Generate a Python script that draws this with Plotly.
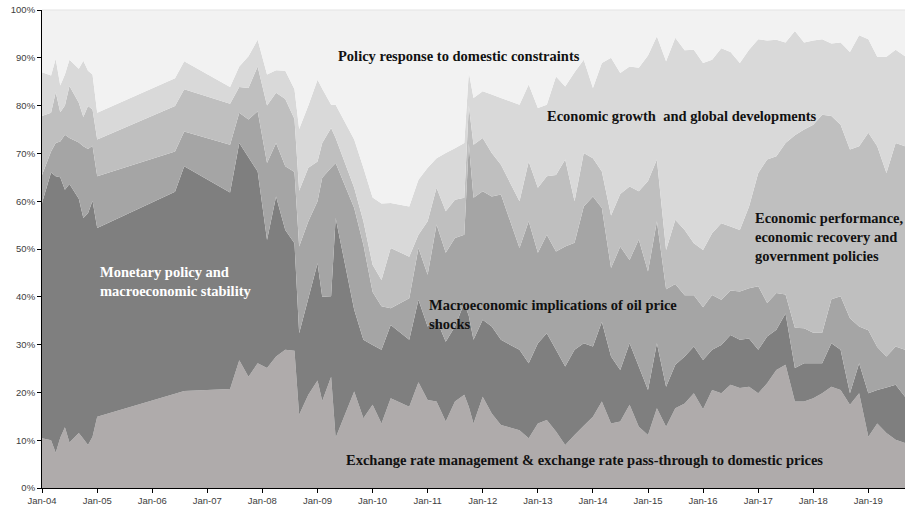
import plotly.graph_objects as go
import numpy as np

# Observation dates
dates = [
    "2004-01-01", "2004-03-01", "2004-04-01", "2004-05-01", "2004-06-01", "2004-07-01",
    "2004-09-01", "2004-10-01", "2004-11-01", "2004-12-01", "2005-01-01", "2006-06-01",
    "2006-08-01", "2007-06-01", "2007-08-01", "2007-10-01", "2007-12-01", "2008-02-01",
    "2008-04-01", "2008-06-01", "2008-08-01", "2008-09-01", "2008-11-01", "2009-01-01",
    "2009-02-01", "2009-04-01", "2009-05-01", "2009-09-01", "2009-11-01", "2010-01-01",
    "2010-03-01", "2010-05-01", "2010-09-01", "2010-11-01", "2011-01-01", "2011-03-01",
    "2011-05-01", "2011-07-01", "2011-09-01", "2011-10-01", "2011-11-01", "2012-01-01",
    "2012-03-01", "2012-05-01", "2012-09-01", "2012-11-01", "2013-01-01", "2013-03-01",
    "2013-05-01", "2013-07-01", "2013-09-01", "2013-11-01", "2014-01-01", "2014-03-01",
    "2014-05-01", "2014-07-01", "2014-09-01", "2014-11-01", "2015-01-01", "2015-03-01",
    "2015-05-01", "2015-07-01", "2015-09-01", "2015-11-01", "2016-01-01", "2016-03-01",
    "2016-05-01", "2016-07-01", "2016-09-01", "2016-11-01", "2017-01-01", "2017-03-01",
    "2017-05-01", "2017-07-01", "2017-09-01", "2017-11-01", "2018-01-01", "2018-03-01",
    "2018-05-01", "2018-07-01", "2018-09-01", "2018-11-01", "2019-01-01", "2019-03-01",
    "2019-05-01", "2019-07-01", "2019-09-01",
]

# Cumulative shares (%): upper edge of each stacked band
top_exchange = [
    10.4, 10.0, 7.4, 10.5, 12.7, 9.5, 11.5, 10.3, 9.0, 10.7, 14.9, 19.7,
    20.3, 20.7, 26.7, 23.3, 26.1, 25.1, 27.5, 28.9, 28.7, 15.3, 19.5, 22.5,
    18.2, 23.3, 10.5, 20.2, 14.6, 17.4, 13.5, 18.8, 17.0, 22.1, 18.4, 18.1,
    13.9, 18.1, 19.5, 17.0, 13.5, 19.1, 15.6, 13.2, 12.1, 10.4, 13.5, 14.2,
    11.8, 9.0, 11.1, 13.0, 14.9, 18.1, 13.5, 13.9, 17.4, 12.8, 11.1, 16.7,
    12.8, 16.7, 17.7, 19.8, 16.5, 20.5, 19.8, 21.6, 20.9, 21.2, 19.8, 21.9,
    24.7, 25.8, 18.1, 18.1, 18.8, 19.8, 21.2, 20.5, 17.4, 19.8, 10.7, 13.5,
    11.5, 10.1, 9.4,
]
top_monetary = [
    59.6, 66.0, 65.2, 65.0, 62.4, 63.6, 60.5, 56.5, 57.5, 60.1, 54.4, 62.0,
    67.3, 61.8, 72.2, 69.2, 66.2, 51.9, 61.0, 54.0, 51.2, 32.4, 39.7, 47.0,
    40.0, 40.1, 56.5, 37.3, 31.0, 29.9, 28.9, 34.1, 31.0, 39.4, 33.8, 35.2,
    30.6, 33.8, 38.7, 36.0, 31.0, 35.2, 33.8, 31.0, 28.9, 26.1, 30.3, 32.4,
    28.9, 25.4, 28.9, 30.3, 29.6, 34.8, 27.5, 24.7, 30.3, 25.4, 20.5, 30.3,
    21.2, 25.8, 27.5, 29.6, 26.8, 28.9, 29.9, 32.0, 31.0, 31.3, 28.9, 31.7,
    33.1, 36.5, 25.1, 26.1, 26.1, 26.1, 30.3, 28.9, 19.8, 26.1, 19.8, 20.5,
    21.0, 21.6, 19.1,
]
top_oil = [
    65.5, 70.4, 72.2, 72.5, 73.9, 73.2, 72.3, 71.5, 70.9, 71.6, 65.2, 70.4,
    74.6, 71.8, 78.5, 77.1, 78.8, 68.0, 72.2, 67.3, 66.1, 50.5, 55.8, 60.0,
    64.9, 67.0, 68.0, 58.6, 50.9, 41.0, 38.0, 37.6, 39.7, 50.2, 44.6, 55.1,
    49.2, 52.3, 53.0, 72.0, 60.7, 62.1, 61.0, 61.4, 50.2, 55.8, 49.2, 53.0,
    49.5, 50.5, 51.3, 58.9, 61.0, 58.6, 46.0, 50.5, 47.7, 52.0, 45.3, 55.8,
    41.6, 42.7, 40.3, 40.3, 37.8, 40.4, 39.4, 41.3, 41.1, 41.8, 42.2, 38.7,
    40.8, 40.5, 33.5, 33.4, 32.5, 32.5, 39.5, 40.1, 35.5, 33.8, 33.0, 29.5,
    27.5, 29.6, 28.9,
]
top_performance = [
    77.8, 78.5, 82.8, 78.6, 80.0, 84.1, 80.6, 77.6, 79.9, 79.2, 72.9, 79.9,
    83.4, 80.4, 83.9, 83.7, 88.2, 80.0, 82.7, 81.4, 77.2, 62.2, 67.0, 68.3,
    72.2, 75.3, 73.2, 62.8, 55.8, 46.7, 43.5, 50.2, 48.4, 53.0, 55.8, 62.8,
    57.9, 60.3, 60.7, 80.0, 71.8, 73.2, 70.1, 67.6, 60.0, 68.3, 62.8, 65.2,
    65.5, 68.7, 60.0, 70.1, 69.0, 66.2, 57.0, 61.5, 63.1, 62.1, 64.2, 68.7,
    49.8, 56.1, 54.0, 51.2, 49.8, 53.3, 55.4, 54.7, 54.0, 58.9, 65.9, 68.7,
    69.4, 72.2, 73.8, 75.0, 76.0, 78.1, 77.8, 76.0, 70.8, 71.5, 74.3, 71.5,
    65.9, 72.2, 71.5,
]
top_growth = [
    87.0, 86.3, 89.8, 84.2, 86.5, 89.6, 87.7, 89.4, 87.3, 86.5, 78.5, 85.7,
    89.3, 83.9, 88.2, 90.3, 93.8, 86.5, 87.4, 87.3, 83.4, 75.1, 80.0, 85.4,
    83.5, 80.2, 80.2, 72.9, 67.0, 60.8, 59.5, 59.6, 58.9, 64.5, 67.0, 69.0,
    70.1, 71.1, 72.2, 87.0, 81.6, 83.0, 82.3, 81.6, 80.2, 84.4, 79.5, 80.2,
    86.1, 84.0, 87.0, 89.6, 83.7, 88.9, 90.0, 86.8, 88.2, 87.9, 90.5, 94.5,
    89.3, 94.2, 91.6, 91.7, 88.9, 89.6, 92.0, 91.2, 88.9, 91.7, 93.9, 93.6,
    93.8, 93.2, 95.6, 93.2, 93.6, 93.9, 93.0, 93.2, 91.2, 94.7, 93.9, 90.2,
    90.2, 91.7, 90.3,
]

series_names = [
    "Exchange rate management & exchange rate pass-through to domestic prices",
    "Monetary policy and macroeconomic stability",
    "Macroeconomic implications of oil price shocks",
    "Economic performance, economic recovery and government policies",
    "Economic growth and global developments",
    "Policy response to domestic constraints",
]
colors = ["#afabab", "#7f7f7f", "#a5a5a5", "#bfbfbf", "#d9d9d9", "#f2f2f2"]

tops = np.array([top_exchange, top_monetary, top_oil, top_performance, top_growth,
                 [100.0] * len(dates)])
shares = np.diff(np.vstack([np.zeros(len(dates)), tops]), axis=0)

fig = go.Figure()
for name, color, vals in zip(series_names, colors, shares):
    fig.add_trace(go.Scatter(
        x=dates, y=vals, name=name, mode="none", stackgroup="one",
        fillcolor=color, line=dict(width=0), hoverinfo="name+y",
    ))

serif = "Liberation Serif, Times New Roman, serif"
labels = [
    (0.483, 0.903, "Policy response to domestic constraints", "center", "#111111"),
    (0.583, 0.779, "Economic growth  and global developments", "left", "#111111"),
    (0.824, 0.526, "Economic performance,<br>economic recovery and<br>government policies", "left", "#111111"),
    (0.446, 0.362, "Macroeconomic implications of oil price<br>shocks", "left", "#111111"),
    (0.065, 0.431, "Monetary policy and<br>macroeconomic stability", "left", "#ffffff"),
    (0.350, 0.059, "Exchange rate management & exchange rate pass-through to domestic prices", "left", "#111111"),
]
for x, y, text, anchor, col in labels:
    fig.add_annotation(
        x=x, y=y, xref="paper", yref="paper", showarrow=False,
        text="<b>" + text + "</b>", xanchor=anchor, yanchor="middle", align="left",
        font=dict(family=serif, size=14.5, color=col),
    )

tickfont = dict(family="Liberation Sans, Arial, sans-serif", size=9.5, color="#404040")
fig.update_layout(
    width=905, height=508,
    margin=dict(l=42, r=0, t=10, b=20, autoexpand=False),
    paper_bgcolor="white", plot_bgcolor="white",
    showlegend=False,
    xaxis=dict(type="date", range=["2004-01-01", "2019-09-01"], tickformat="%b-%y",
               dtick="M12", tick0="2004-01-01", ticks="outside", ticklen=4,
               tickcolor="black", showline=True, linecolor="black", linewidth=1,
               showgrid=False, zeroline=False, tickfont=tickfont),
    yaxis=dict(range=[0, 100], dtick=10, ticksuffix="%", ticks="outside", ticklen=4,
               tickcolor="black", showline=True, linecolor="black", linewidth=1,
               showgrid=False, zeroline=False, tickfont=tickfont),
)
fig.add_shape(type="line", xref="paper", yref="paper", x0=0, x1=1, y0=1, y1=1,
              line=dict(color="#e3e3e3", width=1))

fig.write_html("out.html", config={"displayModeBar": False},
               post_script="document.body.style.margin='0';document.body.style.overflow='hidden';")
